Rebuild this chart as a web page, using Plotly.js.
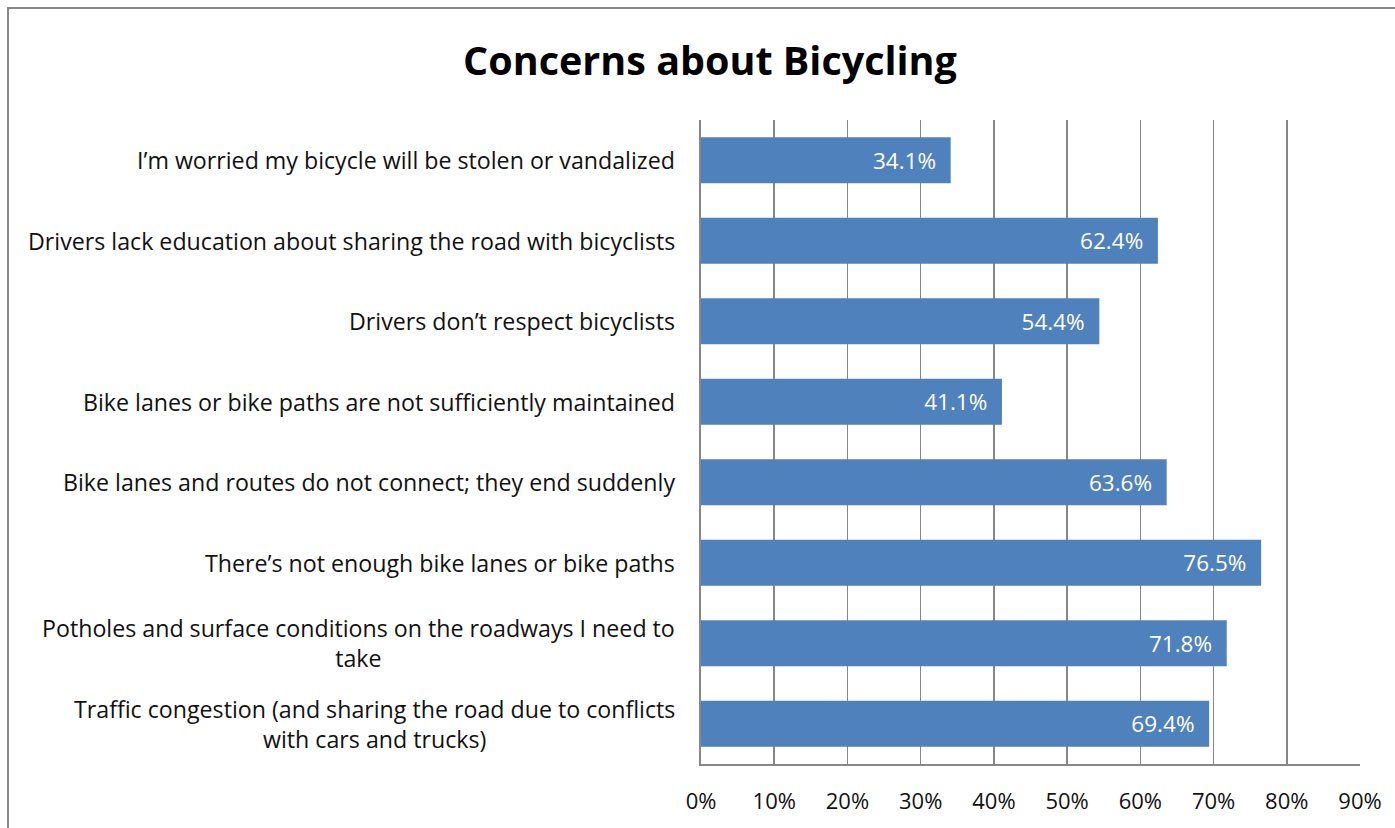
<!DOCTYPE html>
<html>
<head>
<meta charset="utf-8">
<script src="https://cdn.plot.ly/plotly-3.0.1.min.js"></script>
<style>
  html, body { margin: 0; padding: 0; background: #fff; overflow: hidden; }
  #frame { position: absolute; left: 7px; top: 7px; width: 1500px; height: 1000px; border: 2px solid #878787; }
  #chart { position: absolute; left: 0; top: 0; width: 1395px; height: 828px; }
</style>
</head>
<body>
<div id="frame"></div>
<div id="chart"></div>
<script>
const categories = [
  "I\u2019m worried my bicycle will be stolen or vandalized",
  "Drivers lack education about sharing the road with bicyclists",
  "Drivers don\u2019t respect bicyclists",
  "Bike lanes or bike paths are not sufficiently maintained",
  "Bike lanes and routes do not connect; they end suddenly",
  "There\u2019s not enough bike lanes or bike paths",
  "Potholes and surface conditions on the roadways I need to<br>take",
  "Traffic congestion (and sharing the road due to conflicts<br>with cars and trucks)"
];
const values = [34.1, 62.4, 54.4, 41.1, 63.6, 76.5, 71.8, 69.4];
const xTickVals = [0, 10, 20, 30, 40, 50, 60, 70, 80, 90];
const xTickText = ["0%", "10%", "20%", "30%", "40%", "50%", "60%", "70%", "80%", "90%"];
const chartTitle = "Concerns about Bicycling";

const FONT = "'Open Sans', sans-serif";
const GRID = "#878787";

const trace = {
  type: "bar",
  orientation: "h",
  y: categories,
  x: values,
  marker: { color: "#4F81BD" },
  width: 0.57,
  text: values.map(v => v.toFixed(1) + "%\u00a0\u00a0"),
  textposition: "inside",
  insidetextanchor: "end",
  textfont: { family: FONT, size: 22.5, color: "#ffffff" },
  hoverinfo: "skip",
  cliponaxis: false
};

const annotations = categories.map(c => ({
  xref: "paper", yref: "y",
  x: 0, y: c,
  xanchor: "right", yanchor: "middle",
  xshift: -24,
  align: "center",
  text: c,
  showarrow: false,
  font: { family: FONT, size: 23.2, color: "#111111" }
}));

const layout = {
  width: 1395, height: 828,
  paper_bgcolor: "rgba(0,0,0,0)",
  plot_bgcolor: "rgba(0,0,0,0)",
  margin: { l: 701, r: 35, t: 120, b: 64, pad: 0 },
  showlegend: false,
  title: {
    text: "<b>" + chartTitle + "</b>",
    xref: "container", yref: "container",
    x: 710 / 1395, y: 1 - 61 / 828,
    xanchor: "center", yanchor: "middle",
    font: { family: FONT, size: 39.5, color: "#000000" }
  },
  xaxis: {
    range: [0, 90],
    tickvals: xTickVals,
    ticktext: xTickText,
    showgrid: true,
    gridcolor: GRID,
    gridwidth: 1.6,
    showline: true,
    linecolor: GRID,
    linewidth: 1.6,
    zeroline: false,
    ticks: "outside",
    ticklen: 17,
    tickcolor: "rgba(0,0,0,0)",
    tickfont: { family: FONT, size: 22, color: "#111111" },
    fixedrange: true
  },
  yaxis: {
    type: "category",
    autorange: "reversed",
    showticklabels: false,
    showgrid: false,
    showline: true,
    linecolor: GRID,
    linewidth: 1.6,
    ticks: "",
    fixedrange: true
  },
  annotations: annotations,
  bargap: 0.43
};

Plotly.newPlot("chart", [trace], layout, { displayModeBar: false, staticPlot: true });
</script>
</body>
</html>
